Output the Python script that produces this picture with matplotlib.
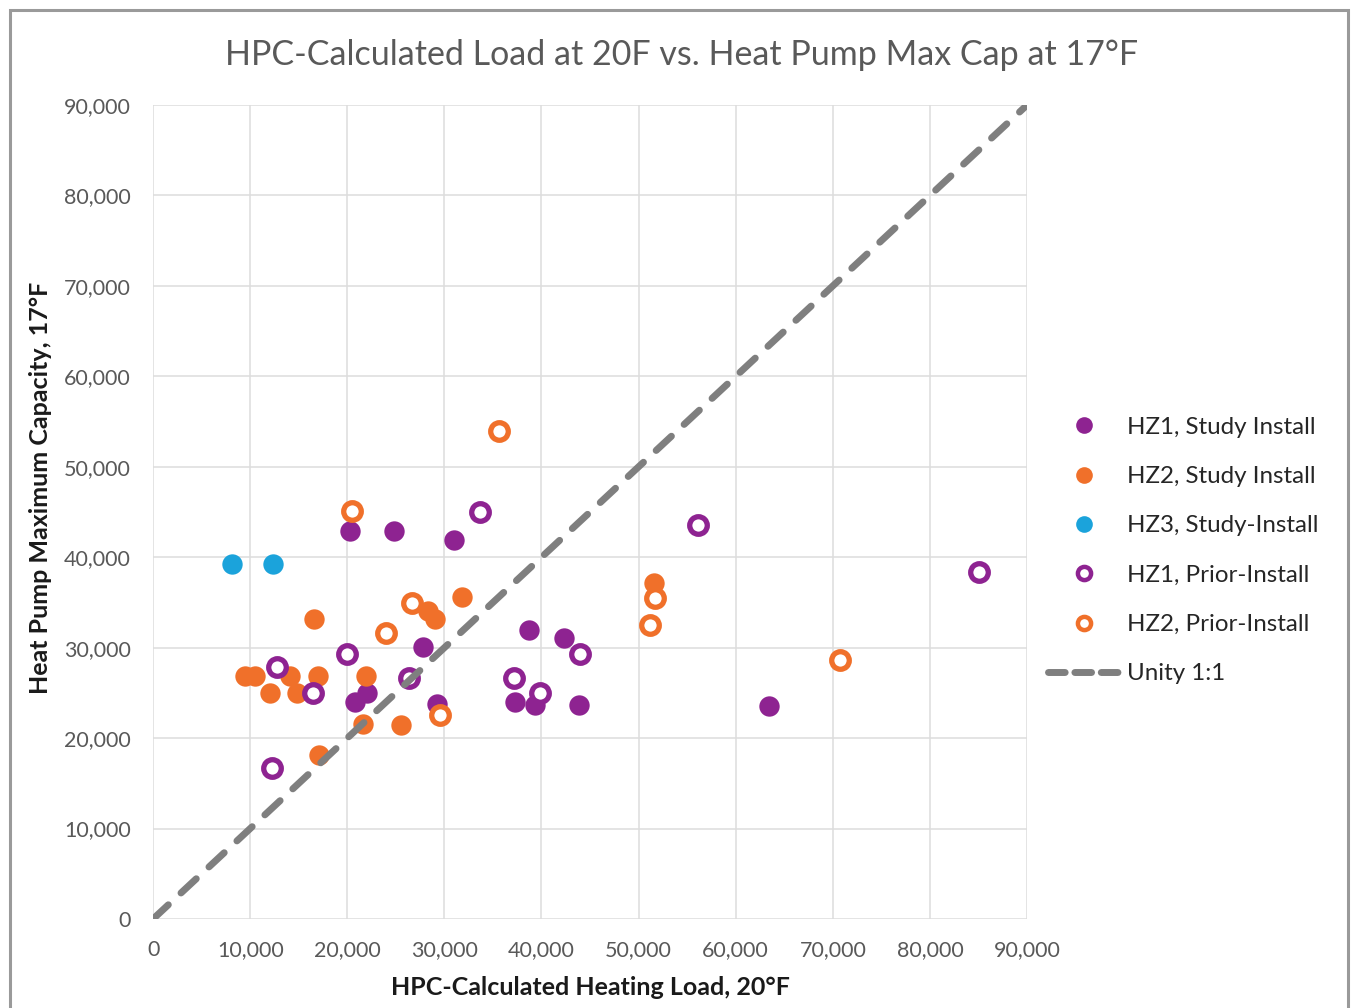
import matplotlib
matplotlib.use("Agg")
import matplotlib.pyplot as plt
from matplotlib.lines import Line2D
from matplotlib.patches import Rectangle
from matplotlib.ticker import FuncFormatter, MultipleLocator

plt.rcParams['font.family'] = ['Lato', 'DejaVu Sans']

# Heating load (x) vs. heat pump max capacity (y), Btu/h
hz1_study_x = [20300, 24800, 31000, 27800, 38700, 42300, 20800, 22000, 29200, 37300, 39300, 43900, 63400]
hz1_study_y = [42900, 42900, 41900, 30100, 31900, 31100, 24000, 25000, 23800, 24000, 23700, 23700, 23600]

hz2_study_x = [16600, 31800, 28300, 29000, 9500, 10500, 14100, 17000, 21900, 12000, 14800,
               21600, 25500, 17100, 51600]
hz2_study_y = [33200, 35600, 34100, 33200, 26900, 26900, 26900, 26900, 26900, 25000, 25000,
               21600, 21400, 18100, 37100]

hz3_study_x = [8100, 12400]
hz3_study_y = [39300, 39300]

hz1_prior_x = [33700, 20000, 12800, 26400, 16500, 37200, 39800, 44000, 12200, 56100, 85100]
hz1_prior_y = [45000, 29300, 27900, 26600, 25000, 26600, 25000, 29300, 16700, 43600, 38400]

hz2_prior_x = [35600, 20500, 26700, 24000, 29500, 51700, 51200, 70700]
hz2_prior_y = [54000, 45100, 34900, 31600, 22600, 35500, 32500, 28600]

unity = [0, 90000]

series_labels = ["HZ1, Study Install", "HZ2, Study Install", "HZ3, Study-Install",
                 "HZ1, Prior-Install", "HZ2, Prior-Install", "Unity 1:1"]

purple = "#8E2391"
orange = "#F0702A"
blue = "#1BA3DB"
grey_line = "#7F7F7F"

fig = plt.figure(figsize=(13.51, 10.08), dpi=100)
ax = fig.add_axes([0.1133, 0.0883, 0.6469, 0.8075])

filled_s = 215
ring_s = 160
ring_lw = 3.8

ax.scatter(hz1_study_x, hz1_study_y, s=filled_s, color=purple, linewidths=0, zorder=3)
ax.scatter(hz2_study_x, hz2_study_y, s=filled_s, color=orange, linewidths=0, zorder=3)
ax.scatter(hz3_study_x, hz3_study_y, s=filled_s, color=blue, linewidths=0, zorder=3)
ax.scatter(hz1_prior_x, hz1_prior_y, s=ring_s, facecolors="white", edgecolors=purple,
           linewidths=ring_lw, zorder=3)
ax.scatter(hz2_prior_x, hz2_prior_y, s=ring_s, facecolors="white", edgecolors=orange,
           linewidths=ring_lw, zorder=3)
ax.plot(unity, unity, color=grey_line, lw=5, dashes=(3.0, 2.5),
        dash_capstyle="round", zorder=4)

ax.set_xlim(0, 90000)
ax.set_ylim(0, 90000)
ax.xaxis.set_major_locator(MultipleLocator(10000))
ax.yaxis.set_major_locator(MultipleLocator(10000))
fmt = FuncFormatter(lambda v, p: f"{int(v):,}")
ax.xaxis.set_major_formatter(fmt)
ax.yaxis.set_major_formatter(fmt)
ax.grid(True, color="#DDDDDD", lw=1.1, zorder=0)
ax.set_axisbelow(True)
for sp in ax.spines.values():
    sp.set_visible(False)
ax.tick_params(length=0, labelsize=15.5, colors="#595959", pad=15)
ax.tick_params(axis="y", pad=16)

ax.set_xlabel("HPC-Calculated Heating Load, 20°F", fontsize=18, fontweight="bold",
              color="#1A1A1A", labelpad=12)
ax.set_ylabel("Heat Pump Maximum Capacity, 17°F", fontsize=18, fontweight="bold",
              color="#1A1A1A")
ax.yaxis.set_label_coords(-0.116, 0.53)

fig.text(0.5045, 0.945, "HPC-Calculated Load at 20F vs. Heat Pump Max Cap at 17°F",
         ha="center", va="center", fontsize=24.5, color="#595959")

handles = [
    Line2D([], [], ls="none", marker="o", ms=12, mfc=purple, mec=purple, mew=0),
    Line2D([], [], ls="none", marker="o", ms=12, mfc=orange, mec=orange, mew=0),
    Line2D([], [], ls="none", marker="o", ms=12, mfc=blue, mec=blue, mew=0),
    Line2D([], [], ls="none", marker="o", ms=9.5, mfc="white", mec=purple, mew=3.2),
    Line2D([], [], ls="none", marker="o", ms=9.5, mfc="white", mec=orange, mew=3.2),
    Line2D([], [], color=grey_line, lw=5, dashes=(2.4, 1.4), dash_capstyle="round"),
]
fig.legend(handles, series_labels, loc="upper left", bbox_to_anchor=(0.7683, 0.596),
           frameon=False, fontsize=17.4, handlelength=3.0, handletextpad=0.3,
           labelspacing=1.17, labelcolor="#262626", borderaxespad=0)

# outer chart border
fig.patches.append(Rectangle((0.0075, -0.01), 0.9905, 1.0, transform=fig.transFigure,
                             fill=False, edgecolor="#9A9A9A", lw=2.2))

fig.savefig("out.png", dpi=100, facecolor="white")
